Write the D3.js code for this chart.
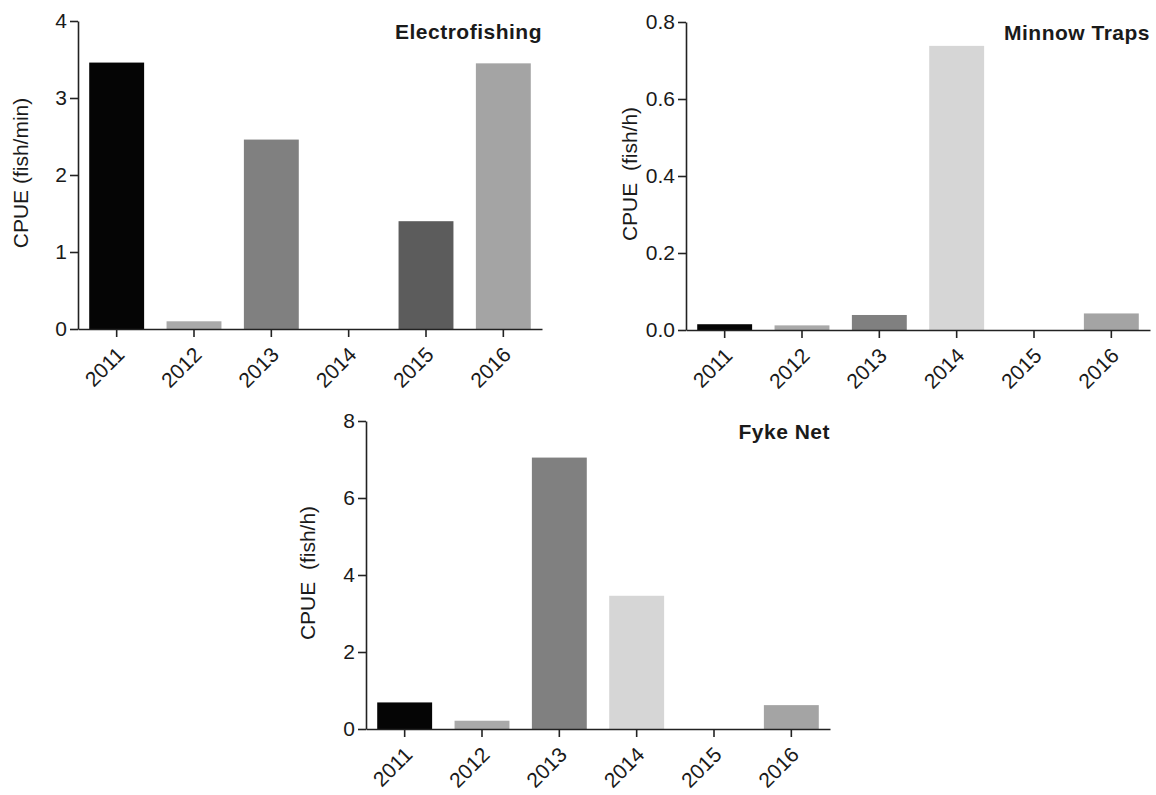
<!DOCTYPE html>
<html>
<head>
<meta charset="utf-8">
<script src="https://cdn.jsdelivr.net/npm/d3@7"></script>
<style>
  body { margin: 0; background: #fff; }
  text { font-family: "Liberation Sans", Arial, sans-serif; fill: #1a1a1a; }
</style>
</head>
<body>
<svg id="base" width="1156" height="795"></svg>
<script>
let years = ["2011", "2012", "2013", "2014", "2015", "2016"]
let yearColors = ["#050505", "#a9a9a9", "#808080", "#d6d6d6", "#5c5c5c", "#a4a4a4"]

let electroValues = [3.46, 0.10, 2.46, 0, 1.40, 3.45]
let electroTicks = [0, 1, 2, 3, 4]

let minnowValues = [0.015, 0.012, 0.039, 0.738, 0, 0.043]
let minnowTicks = [0, 0.2, 0.4, 0.6, 0.8]

let fykeValues = [0.69, 0.215, 7.05, 3.46, 0, 0.62]
let fykeTicks = [0, 2, 4, 6, 8]

const base = d3.select('#base')

function drawPanel(p) {
    let g = base.append('g').attr('transform', 'translate(' + p.left + ',' + p.top + ')')
    let w = 464, h = 308

    let x = d3.scaleBand().domain(years).range([0, w]).paddingInner(0.29).paddingOuter(0.145)
    let y = d3.scaleLinear().domain([0, p.ticks[p.ticks.length - 1]]).range([h, 0])

    g.selectAll('rect.bar')
        .data(p.values)
        .enter().append('rect')
        .attr('class', 'bar')
        .attr('x', (d, i) => x(years[i]))
        .attr('width', x.bandwidth())
        .attr('y', d => y(d))
        .attr('height', d => h - y(d))
        .style('fill', (d, i) => yearColors[i])

    let yAxis = g.append('g')
        .call(d3.axisLeft(y).tickValues(p.ticks).tickFormat(p.fmt).tickSize(8).tickSizeOuter(0).tickPadding(3))
    let xAxis = g.append('g').attr('transform', 'translate(0,' + h + ')')
        .call(d3.axisBottom(x).tickSize(8).tickSizeOuter(0))

    ;[yAxis, xAxis].forEach(a => {
        a.selectAll('path, line').style('stroke', '#222').style('stroke-width', 1.6)
        a.selectAll('text').style('font-size', '21px').style('fill', '#1a1a1a')
            .style('font-family', '"Liberation Sans", Arial, sans-serif')
    })

    xAxis.selectAll('text')
        .attr('text-anchor', 'end')
        .attr('dy', null)
        .attr('y', null)
        .attr('transform', 'translate(9,27) rotate(-45)')

    g.append('text')
        .attr('x', w).attr('y', 18)
        .attr('text-anchor', 'end')
        .style('font-size', '21px')
        .style('font-weight', 'bold')
        .style('letter-spacing', '0.5px')
        .text(p.title)

    g.append('text')
        .attr('transform', 'translate(' + p.labelX + ',' + (h / 2 - 2) + ') rotate(-90)')
        .attr('text-anchor', 'middle')
        .attr('dy', '0.35em')
        .style('font-size', '21px')
        .style('white-space', 'pre')
        .text(p.label)
}

drawPanel({ left: 78, top: 21, values: electroValues, ticks: electroTicks, fmt: d3.format('d'),
    title: 'Electrofishing', label: 'CPUE (fish/min)', labelX: -57 })
drawPanel({ left: 686, top: 22, values: minnowValues, ticks: minnowTicks, fmt: d3.format('.1f'),
    title: 'Minnow Traps', label: 'CPUE  (fish/h)', labelX: -56 })
drawPanel({ left: 366, top: 421, values: fykeValues, ticks: fykeTicks, fmt: d3.format('d'),
    title: 'Fyke Net', label: 'CPUE  (fish/h)', labelX: -58 })
</script>
</body>
</html>
